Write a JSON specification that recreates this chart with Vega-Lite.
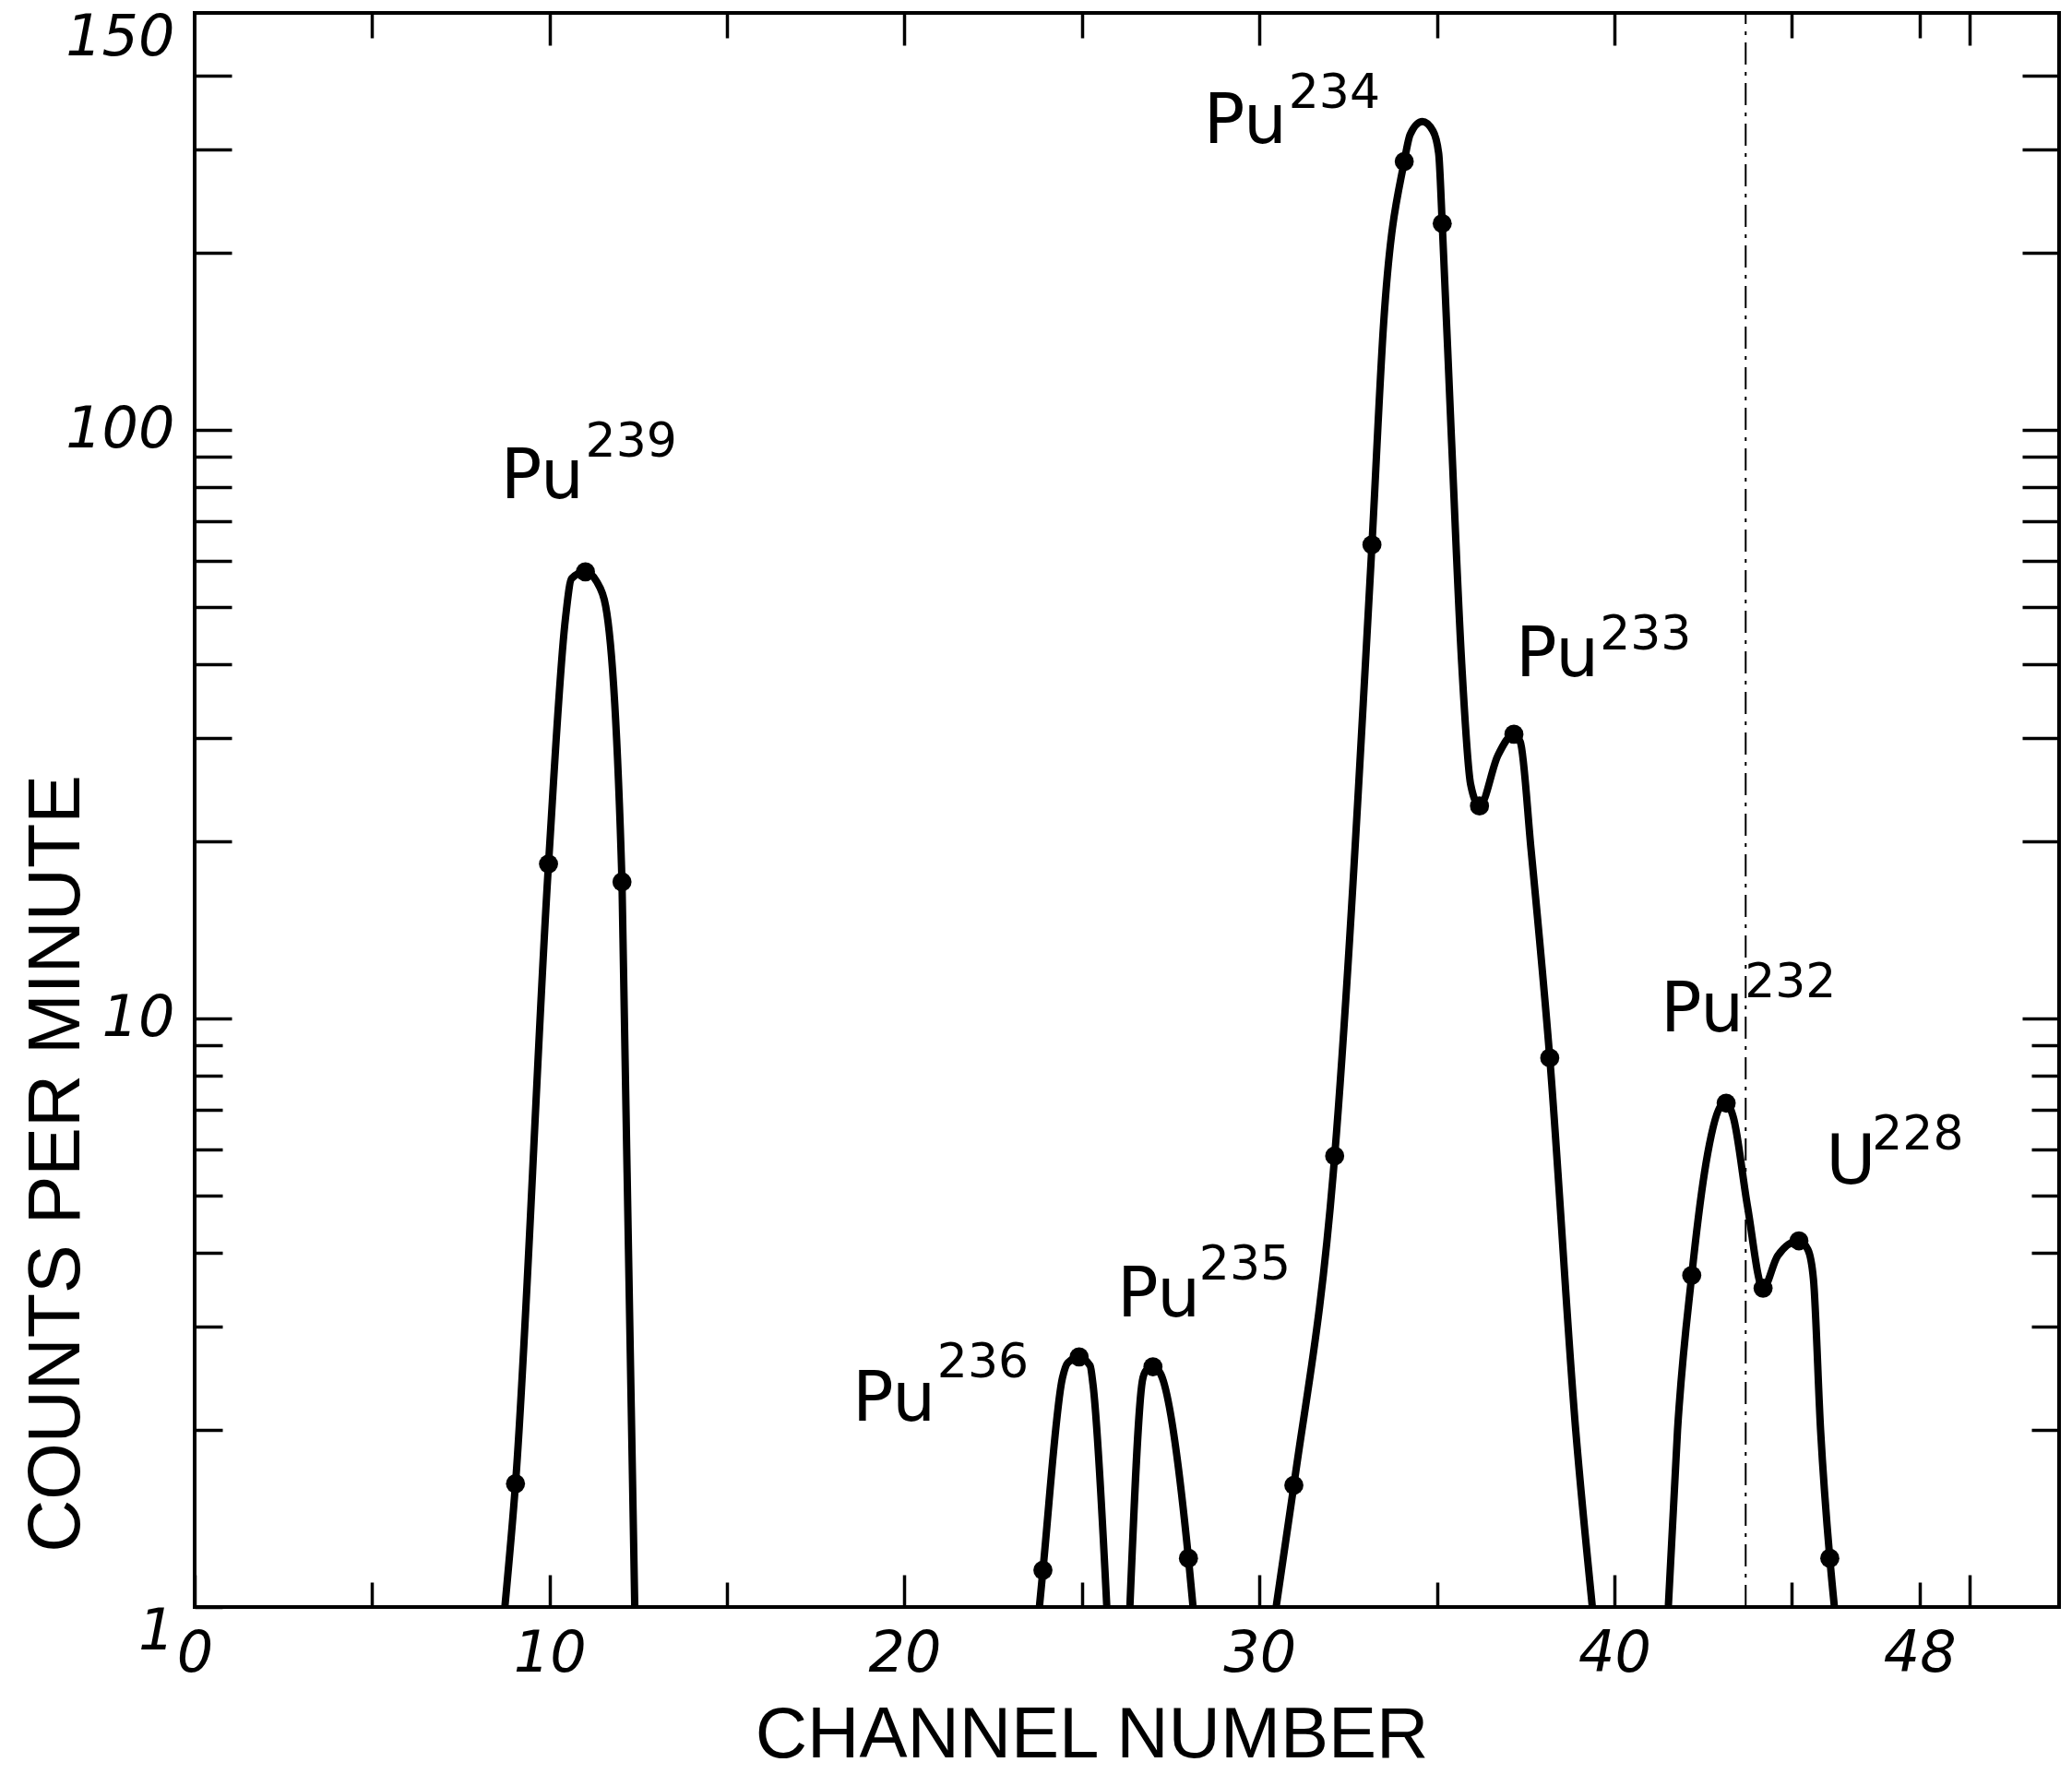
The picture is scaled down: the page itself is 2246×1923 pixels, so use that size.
{
  "$schema": "https://vega.github.io/schema/vega-lite/v6.json",
  "width": 2021,
  "height": 1728,
  "autosize": {"type": "none"},
  "padding": {"left": 211, "top": 14, "right": 14, "bottom": 181},
  "background": "white",
  "config": {
    "view": {"stroke": "black", "strokeWidth": 4},
    "axis": {"grid": false, "domain": false, "tickColor": "black", "tickWidth": 3.5, "labelColor": "black", "titleColor": "black", "labelOverlap": false, "labelFlush": false, "labelBound": false}
  },
  "datasets": {
    "curve": [
      {"peak": "A", "channel": 8.74, "cpm": 1},
      {"peak": "A", "channel": 9.04, "cpm": 1.62},
      {"peak": "A", "channel": 9.97, "cpm": 18.3},
      {"peak": "A", "channel": 10.45, "cpm": 48},
      {"peak": "A", "channel": 10.62, "cpm": 55.9},
      {"peak": "A", "channel": 11.01, "cpm": 57.4},
      {"peak": "A", "channel": 11.32, "cpm": 55.3},
      {"peak": "A", "channel": 11.58, "cpm": 50.2},
      {"peak": "A", "channel": 12.04, "cpm": 17.06},
      {"peak": "A", "channel": 12.4, "cpm": 1},
      {"peak": "B", "channel": 23.8, "cpm": 1},
      {"peak": "B", "channel": 23.9, "cpm": 1.155},
      {"peak": "B", "channel": 24.45, "cpm": 2.45},
      {"peak": "B", "channel": 24.6, "cpm": 2.6},
      {"peak": "B", "channel": 24.92, "cpm": 2.66},
      {"peak": "B", "channel": 25.23, "cpm": 2.57},
      {"peak": "B", "channel": 25.31, "cpm": 2.39},
      {"peak": "B", "channel": 25.7, "cpm": 1},
      {"peak": "C", "channel": 26.35, "cpm": 1},
      {"peak": "C", "channel": 26.7, "cpm": 2.42},
      {"peak": "C", "channel": 26.8, "cpm": 2.52},
      {"peak": "C", "channel": 27.0, "cpm": 2.56},
      {"peak": "C", "channel": 27.2, "cpm": 2.5},
      {"peak": "C", "channel": 28.0, "cpm": 1.21},
      {"peak": "C", "channel": 28.13, "cpm": 1},
      {"peak": "D", "channel": 30.47, "cpm": 1},
      {"peak": "D", "channel": 30.97, "cpm": 1.61},
      {"peak": "D", "channel": 32.12, "cpm": 5.84},
      {"peak": "D", "channel": 33.17, "cpm": 63.8},
      {"peak": "D", "channel": 33.5, "cpm": 152},
      {"peak": "D", "channel": 34.08, "cpm": 285.8},
      {"peak": "D", "channel": 34.25, "cpm": 318},
      {"peak": "D", "channel": 34.59, "cpm": 334},
      {"peak": "D", "channel": 34.89, "cpm": 322},
      {"peak": "D", "channel": 35.05, "cpm": 295},
      {"peak": "D", "channel": 35.15, "cpm": 224.2},
      {"peak": "D", "channel": 35.4, "cpm": 100},
      {"peak": "D", "channel": 35.7, "cpm": 40},
      {"peak": "D", "channel": 35.95, "cpm": 25},
      {"peak": "D", "channel": 36.2, "cpm": 22.96},
      {"peak": "D", "channel": 36.72, "cpm": 28.0},
      {"peak": "D", "channel": 37.17, "cpm": 30.4},
      {"peak": "D", "channel": 37.35, "cpm": 29.5},
      {"peak": "D", "channel": 37.65, "cpm": 19.45},
      {"peak": "D", "channel": 38.18, "cpm": 8.57},
      {"peak": "D", "channel": 38.91, "cpm": 2.0},
      {"peak": "D", "channel": 39.38, "cpm": 1},
      {"peak": "E", "channel": 41.52, "cpm": 1},
      {"peak": "E", "channel": 41.78, "cpm": 2.0},
      {"peak": "E", "channel": 42.18, "cpm": 3.66},
      {"peak": "E", "channel": 42.63, "cpm": 5.9},
      {"peak": "E", "channel": 43.0, "cpm": 7.1},
      {"peak": "E", "channel": 43.15, "cpm": 7.18},
      {"peak": "E", "channel": 43.35, "cpm": 6.8},
      {"peak": "E", "channel": 43.75, "cpm": 4.8},
      {"peak": "E", "channel": 44.19, "cpm": 3.48},
      {"peak": "E", "channel": 44.6, "cpm": 3.95},
      {"peak": "E", "channel": 45.2, "cpm": 4.19},
      {"peak": "E", "channel": 45.45, "cpm": 4.05},
      {"peak": "E", "channel": 45.61, "cpm": 3.6},
      {"peak": "E", "channel": 45.81, "cpm": 2.0},
      {"peak": "E", "channel": 46.07, "cpm": 1.21},
      {"peak": "E", "channel": 46.2, "cpm": 1}
    ],
    "pts": [
      {"channel": 9.04, "cpm": 1.62},
      {"channel": 9.97, "cpm": 18.3},
      {"channel": 11.01, "cpm": 57.4},
      {"channel": 12.04, "cpm": 17.06},
      {"channel": 23.9, "cpm": 1.155},
      {"channel": 24.92, "cpm": 2.66},
      {"channel": 27.0, "cpm": 2.56},
      {"channel": 28.0, "cpm": 1.21},
      {"channel": 30.97, "cpm": 1.61},
      {"channel": 32.12, "cpm": 5.84},
      {"channel": 33.17, "cpm": 63.8},
      {"channel": 34.08, "cpm": 285.8},
      {"channel": 35.15, "cpm": 224.2},
      {"channel": 36.2, "cpm": 22.96},
      {"channel": 37.17, "cpm": 30.4},
      {"channel": 38.18, "cpm": 8.57},
      {"channel": 42.18, "cpm": 3.66},
      {"channel": 43.15, "cpm": 7.18},
      {"channel": 44.19, "cpm": 3.48},
      {"channel": 45.2, "cpm": 4.19},
      {"channel": 46.07, "cpm": 1.21}
    ],
    "labels": [
      {"element": "Pu", "mass": "239", "bx": 8.62, "by": 76.6, "sx": 11.01, "sy": 90.1},
      {"element": "Pu", "mass": "234", "bx": 28.43, "by": 307, "sx": 30.82, "sy": 352},
      {"element": "Pu", "mass": "233", "bx": 37.22, "by": 38.1, "sx": 39.59, "sy": 42.4},
      {"element": "Pu", "mass": "232", "bx": 41.3, "by": 9.51, "sx": 43.67, "sy": 10.87},
      {"element": "U", "mass": "228", "bx": 45.96, "by": 5.24, "sx": 47.26, "sy": 5.99},
      {"element": "Pu", "mass": "235", "bx": 25.99, "by": 3.12, "sx": 28.3, "sy": 3.6},
      {"element": "Pu", "mass": "236", "bx": 18.53, "by": 2.07, "sx": 20.92, "sy": 2.455}
    ],
    "fold": [{"channel": 43.7}]
  },
  "layer": [
    {
      "data": {"name": "curve"},
      "mark": {"type": "line", "interpolate": "monotone", "strokeWidth": 8, "color": "black", "clip": true},
      "encoding": {
        "x": {
          "field": "channel", "type": "quantitative",
          "scale": {"domain": [0, 52.53], "nice": false, "zero": false},
          "axis": {
            "orient": "bottom",
            "values": [0, 5, 10, 15, 20, 25, 30, 35, 40, 45, 48.6, 50],
            "labelExpr": "datum.value == 48.6 ? '48' : (datum.value == 0 || datum.value == 10 || datum.value == 20 || datum.value == 30 || datum.value == 40) ? format(datum.value, 'd') : ''",
            "tickSize": {"condition": {"test": "datum.value % 10 == 0", "value": -35}, "value": -27},
            "labelPadding": {"condition": {"test": "datum.value % 10 == 0", "value": 85}, "value": 77},
            "labelBaseline": "middle",
            "labelFont": "DejaVu Sans", "labelFontStyle": "italic", "labelFontSize": 62,
            "title": "CHANNEL NUMBER",
            "titleFont": "Liberation Sans", "titleFontSize": 78, "titleFontWeight": "normal",
            "titleX": 972, "titleY": 162, "titleBaseline": "alphabetic", "titleAlign": "center"
          }
        },
        "y": {
          "field": "cpm", "type": "quantitative",
          "scale": {"type": "log", "domain": [1, 511], "nice": false},
          "axis": {
            "orient": "left",
            "values": [1, 2, 3, 4, 5, 6, 7, 8, 9, 10, 20, 30, 40, 50, 60, 70, 80, 90, 100, 200, 300, 400, 465],
            "labelExpr": "datum.value == 1 ? '1' : datum.value == 10 ? '10' : datum.value == 100 ? '100' : datum.value == 465 ? '150' : ''",
            "tickSize": {"condition": [{"test": "datum.value == 465", "value": 0}, {"test": "datum.value < 10", "value": -30}], "value": -40},
            "labelPadding": {"condition": [{"test": "datum.value == 465", "value": 22}, {"test": "datum.value < 10", "value": 52}], "value": 62},
            "labelOffset": {"condition": {"test": "datum.value == 1", "value": 26}, "value": 0},
            "labelFont": "DejaVu Sans", "labelFontStyle": "italic", "labelFontSize": 62,
            "title": "COUNTS PER MINUTE",
            "titleFont": "Liberation Sans", "titleFontSize": 79, "titleFontWeight": "normal",
            "titleX": -150, "titleY": 1247, "titleAngle": -90, "titleBaseline": "middle", "titleAlign": "center"
          }
        },
        "detail": {"field": "peak"}
      }
    },
    {
      "data": {"name": "pts"},
      "mark": {"type": "point", "filled": true, "shape": "circle", "size": 430, "color": "black", "opacity": 1},
      "encoding": {
        "x": {
          "field": "channel", "type": "quantitative",
          "scale": {"domain": [0, 52.53], "nice": false, "zero": false},
          "axis": {
            "orient": "top",
            "values": [5, 10, 15, 20, 25, 30, 35, 40, 45, 48.6, 50],
            "labels": false,
            "tickSize": {"condition": {"test": "datum.value % 10 == 0", "value": -35}, "value": -27},
            "title": null
          }
        },
        "y": {
          "field": "cpm", "type": "quantitative",
          "scale": {"type": "log", "domain": [1, 511], "nice": false},
          "axis": {
            "orient": "right",
            "values": [2, 3, 4, 5, 6, 7, 8, 9, 10, 20, 30, 40, 50, 60, 70, 80, 90, 100, 200, 300, 400],
            "labels": false,
            "tickSize": {"condition": {"test": "datum.value < 10", "value": -30}, "value": -40},
            "title": null
          }
        }
      }
    },
    {
      "data": {"name": "fold"},
      "mark": {"type": "rule", "color": "black", "strokeWidth": 2, "strokeDash": [24, 8, 4, 8]},
      "encoding": {
        "x": {"field": "channel", "type": "quantitative", "scale": {"domain": [0, 52.53], "nice": false, "zero": false}, "axis": null},
        "y": {"datum": 1, "type": "quantitative", "scale": {"type": "log", "domain": [1, 511], "nice": false}, "axis": null},
        "y2": {"datum": 511}
      }
    },
    {
      "data": {"name": "labels"},
      "mark": {"type": "text", "align": "left", "baseline": "alphabetic", "font": "DejaVu Sans", "fontSize": 74, "color": "black"},
      "encoding": {
        "x": {"field": "bx", "type": "quantitative", "scale": {"domain": [0, 52.53], "nice": false, "zero": false}, "axis": null},
        "y": {"field": "by", "type": "quantitative", "scale": {"type": "log", "domain": [1, 511], "nice": false}, "axis": null},
        "text": {"field": "element"}
      }
    },
    {
      "data": {"name": "labels"},
      "mark": {"type": "text", "align": "left", "baseline": "alphabetic", "font": "DejaVu Sans", "fontSize": 52, "color": "black"},
      "encoding": {
        "x": {"field": "sx", "type": "quantitative", "scale": {"domain": [0, 52.53], "nice": false, "zero": false}, "axis": null},
        "y": {"field": "sy", "type": "quantitative", "scale": {"type": "log", "domain": [1, 511], "nice": false}, "axis": null},
        "text": {"field": "mass"}
      }
    }
  ],
  "resolve": {"axis": {"x": "independent", "y": "independent"}}
}
